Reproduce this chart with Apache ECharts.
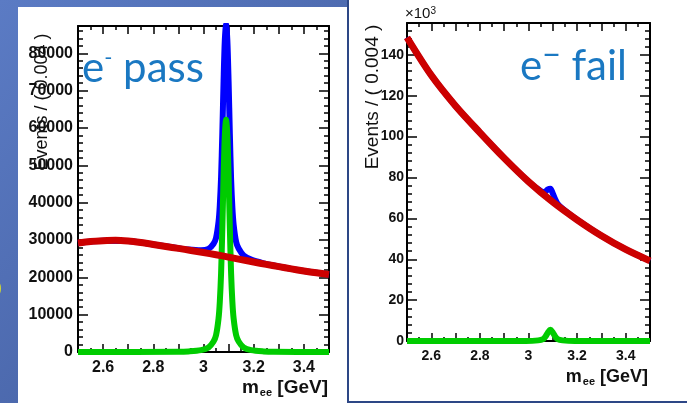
<!DOCTYPE html>
<html>
<head>
<meta charset="utf-8">
<script src="https://cdn.jsdelivr.net/npm/echarts@6/dist/echarts.min.js"></script>
<style>html,body{margin:0;padding:0;background:#fff;}#c{width:687px;height:403px;}</style>
</head>
<body>
<div id="c"></div>
<script>
// ---- e- pass panel (Events) ----
const xTicks = [2.6, 2.8, 3, 3.2, 3.4];
const passBgX = [2.50,2.55,2.60,2.65,2.70,2.75,2.80,2.85,2.90,2.95,3.00,3.05,3.10,3.15,3.20,3.25,3.30,3.35,3.40,3.45,3.50];
const passBg  = [29200,29600,29800,29900,29700,29300,28800,28250,27750,27200,26650,26050,25400,24750,24100,23450,22850,22250,21700,21200,20750];
const passSigX = [2.50,2.90,2.94,2.99,3.02,3.04,3.05,3.06,3.065,3.07,3.075,3.08,3.085,3.09,3.095,3.10,3.105,3.11,3.115,3.12,3.13,3.14,3.16,3.19,3.24,3.28,3.50];
const passSig  = [0,50,150,500,1200,2800,4500,9000,13500,21000,33000,47000,58000,62200,58000,47000,33000,21000,13500,9000,4500,2800,1200,500,150,50,0];
const passTotX = [2.50,2.60,2.70,2.80,2.90,2.94,2.99,3.02,3.04,3.05,3.06,3.065,3.07,3.075,3.08,3.085,3.09,3.095,3.10,3.105,3.11,3.115,3.12,3.13,3.14,3.16,3.19,3.24,3.28,3.35,3.40,3.50];
const passTot  = [29200,29800,29700,28800,27800,27450,27250,27600,29000,30550,34900,39350,46800,58700,72650,83550,87700,83450,72400,58350,46250,38700,34150,29500,27700,25850,24750,23750,23150,22250,21700,20750];
const passYTicks = [0,10000,20000,30000,40000,50000,60000,70000,80000];

// ---- e- fail panel (Events x10^3) ----
const failBgX = [2.5,2.6,2.7,2.8,2.9,3.0,3.1,3.2,3.3,3.4,3.5];
const failBg  = [148.5,130,115,102,89.5,78,68,59.3,51.5,44.8,39.2];
const failSigX = [2.5,2.99,3.04,3.06,3.07,3.08,3.09,3.10,3.11,3.12,3.14,3.19,3.5];
const failSig  = [0,0,0.3,0.9,2.2,4.2,5.5,4.2,2.2,0.9,0.3,0,0];
const failTotX = [2.5,2.6,2.7,2.8,2.9,3.0,3.04,3.06,3.07,3.08,3.09,3.10,3.11,3.12,3.14,3.2,3.3,3.4,3.5];
const failTot  = [148.5,130,115,102,89.5,78,74.3,72.9,73.2,74.2,74.5,72.2,69.3,67.1,64.8,59.3,51.5,44.8,39.2];
const failYTicks = [0,20,40,60,80,100,120,140];

const zip = (xs, ys) => xs.map((x, i) => [x, ys[i]]);
const FONT = 'Liberation Sans';

function xLabelFmt(v){
  const r = Math.round(v*10)/10;
  return xTicks.some(t => Math.abs(t - r) < 1e-6) ? String(r) : '';
}
function mkX(grid, pos, labels, fs){
  return {
    type:'value', gridIndex:grid, position:pos, min:2.5, max:3.5, interval:0.1,
    axisLine:{show:true, onZero:false, lineStyle:{color:'#000', width:2}},
    axisTick:{show:true, inside:true, length:8, lineStyle:{color:'#000', width:1.5}},
    minorTick:{show:true, splitNumber:2, length:4, lineStyle:{color:'#000', width:1.5}},
    splitLine:{show:false}, minorSplitLine:{show:false},
    axisLabel:{show:labels, formatter:xLabelFmt, margin:8, fontFamily:FONT, fontWeight:'bold', fontSize:fs||14, color:'#111'}
  };
}
function mkY(grid, pos, labels, max, interval, ticks, fs, margin){
  return {
    type:'value', gridIndex:grid, position:pos, min:0, max:max, interval:interval,
    axisLine:{show:true, onZero:false, lineStyle:{color:'#000', width:2}},
    axisTick:{show:true, inside:true, length:10, lineStyle:{color:'#000', width:1.5}},
    minorTick:{show:true, splitNumber:5, length:5, lineStyle:{color:'#000', width:1.5}},
    splitLine:{show:false}, minorSplitLine:{show:false},
    axisLabel:{show:labels, margin:margin||4, fontFamily:FONT, fontWeight:'bold', fontSize:fs||14, color:'#111',
      formatter: v => ticks.indexOf(Math.round(v*1000)/1000) >= 0 ? String(Math.round(v)) : ''}
  };
}
function line(xi, yi, data, color, width, z){
  return {type:'line', xAxisIndex:xi, yAxisIndex:yi, data:data, showSymbol:false, smooth:0.3,
    silent:true, z:z, lineStyle:{color:color, width:width, cap:'butt', join:'round'}, itemStyle:{color:color}};
}

const chart = echarts.init(document.getElementById('c'), null, {renderer:'canvas'});
const BLUE_TXT = '#1a78c2';
const option = {
  animation:false,
  grid:[
    {left:78, top:26, width:251, height:326},
    {left:407, top:23, width:243, height:318}
  ],
  xAxis:[mkX(0,'bottom',true,16), mkX(0,'top',false), mkX(1,'bottom',true,14), mkX(1,'top',false)],
  yAxis:[
    mkY(0,'left',true,87300,10000,passYTicks,16,5), mkY(0,'right',false,87300,10000,passYTicks),
    mkY(1,'left',true,155.6,20,failYTicks,14,3), mkY(1,'right',false,155.6,20,failYTicks)
  ],
  series:[
    line(0,0,zip(passTotX,passTot),'#0000ff',6,3),
    line(0,0,zip(passSigX,passSig),'#00cc00',6,4),
    line(0,0,zip(passBgX,passBg),'#cc0000',7,5),
    line(2,2,zip(failTotX,failTot),'#0000ff',6,3),
    line(2,2,zip(failSigX,failSig),'#00cc00',6,4),
    line(2,2,zip(failBgX,failBg),'#cc0000',7,5)
  ],
  graphic:[
    {type:'rect', z:-10, silent:true, shape:{x:0,y:0,width:687,height:403},
      style:{fill:new echarts.graphic.LinearGradient(0,0,0.6,1,[{offset:0,color:'#5b7bc4'},{offset:1,color:'#3e5898'}])}},
    {type:'rect', z:-9, silent:true, shape:{x:18,y:7,width:329,height:400}, style:{fill:'#ffffff'}},
    {type:'rect', z:-9, silent:true, shape:{x:347,y:0,width:345,height:403}, style:{fill:'#2d4786'}},
    {type:'rect', z:-8, silent:true, shape:{x:349,y:0,width:340,height:401}, style:{fill:'#ffffff'}},
    {type:'text', z:50, silent:true, x:-5, y:278, style:{text:')', fill:'#ffff00', font:'bold 20px "Liberation Sans"'}},
    {type:'text', z:50, silent:true, x:42, y:102, rotation:Math.PI/2,
      style:{text:'Events / ( 0.004 )', fill:'#111', font:'18px "Liberation Sans"', align:'center', verticalAlign:'middle'}},
    {type:'text', z:50, silent:true, x:373, y:97, rotation:Math.PI/2,
      style:{text:'Events / ( 0.004 )', fill:'#111', font:'19px "Liberation Sans"', align:'center', verticalAlign:'middle'}},
    {type:'text', z:50, silent:true, x:405, y:6,
      style:{text:'×10{s|3}', fill:'#111', font:'15px "Liberation Sans"', rich:{s:{fontSize:10, verticalAlign:'top', fill:'#111', fontFamily:FONT}}}},
    {type:'text', z:50, silent:true, x:328, y:388,
      style:{text:'{m|m}{s|ee}{m| [GeV]}', align:'right', verticalAlign:'middle',
        rich:{m:{fontSize:19, fontWeight:'bold', fontFamily:FONT, fill:'#111'}, s:{fontSize:11, fontWeight:'bold', fontFamily:FONT, fill:'#111', padding:[10,0,0,1]}}}},
    {type:'text', z:50, silent:true, x:648, y:377,
      style:{text:'{m|m}{s|ee}{m| [GeV]}', align:'right', verticalAlign:'middle',
        rich:{m:{fontSize:18, fontWeight:'bold', fontFamily:FONT, fill:'#111'}, s:{fontSize:11, fontWeight:'bold', fontFamily:FONT, fill:'#111', padding:[10,0,0,1]}}}},
    {type:'text', z:50, silent:true, x:82, y:68,
      style:{text:'e{u|-} pass', fill:BLUE_TXT, font:'42px Lato', verticalAlign:'middle',
        rich:{u:{fontSize:22, fontFamily:'Lato', fill:BLUE_TXT, verticalAlign:'top', padding:[0,0,16,0]}}}},
    {type:'text', z:50, silent:true, x:520, y:66,
      style:{text:'e{u|−} fail', fill:BLUE_TXT, font:'42px Lato', verticalAlign:'middle',
        rich:{u:{fontSize:32, fontFamily:'Lato', fill:BLUE_TXT, padding:[0,0,20,0]}}}}
  ]
};
chart.setOption(option);
</script>
</body>
</html>
